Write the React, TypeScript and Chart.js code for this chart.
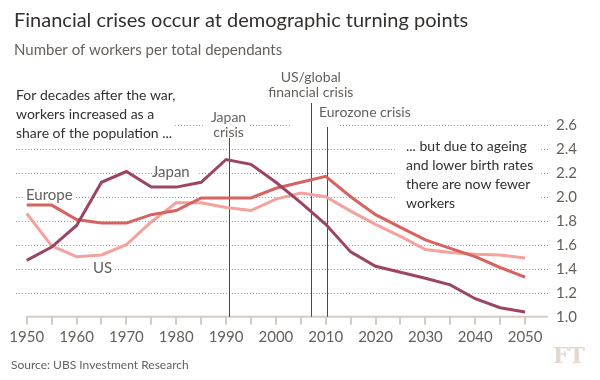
import React, { useEffect, useRef } from "react";
import { Chart, registerables } from "chart.js";
Chart.register(...registerables);

const years = [1950, 1955, 1960, 1965, 1970, 1975, 1980, 1985, 1990, 1995, 2000, 2005, 2010, 2015, 2020, 2025, 2030, 2035, 2040, 2045, 2050];
const japan = [1.47, 1.58, 1.76, 2.12, 2.21, 2.08, 2.08, 2.12, 2.31, 2.27, 2.12, 1.95, 1.77, 1.54, 1.42, 1.37, 1.32, 1.265, 1.15, 1.075, 1.04];
const europe = [1.93, 1.93, 1.81, 1.78, 1.78, 1.85, 1.885, 1.99, 1.99, 1.99, 2.07, 2.12, 2.17, 2.0, 1.85, 1.745, 1.64, 1.57, 1.5, 1.41, 1.33];
const us = [1.86, 1.59, 1.5, 1.515, 1.6, 1.79, 1.95, 1.95, 1.91, 1.885, 1.98, 2.03, 2.0, 1.88, 1.77, 1.67, 1.56, 1.535, 1.52, 1.515, 1.49];
const xTickLabels = ["1950", "1960", "1970", "1980", "1990", "2000", "2010", "2020", "2030", "2040", "2050"];
const yTicks = [1.0, 1.2, 1.4, 1.6, 1.8, 2.0, 2.2, 2.4, 2.6];
const crisisYears = [1990.5, 2007, 2010.3];
const crisisLabels = [["Japan", "crisis"], ["US/global", "financial crisis"], ["Eurozone crisis"]];

const FONT = "Lato, 'Open Sans', sans-serif";

const overlay = {
  id: "overlay",
  beforeDraw(chart: any) {
    const ctx = chart.ctx;
    ctx.save();
    ctx.fillStyle = "#ffffff";
    ctx.fillRect(0, 0, chart.width, chart.height);
    ctx.restore();
  },
  beforeDatasetsDraw(chart: any) {
    const ctx = chart.ctx;
    const { chartArea } = chart;
    const x = chart.scales.x;
    const y = chart.scales.y;
    ctx.save();

    // dotted gridlines from the y scale
    ctx.strokeStyle = "#a8a19b";
    ctx.lineWidth = 1;
    ctx.setLineDash([1, 2]);
    yTicks.forEach((v) => {
      if (v === 1.0) return;
      const py = Math.round(y.getPixelForValue(v)) + 0.5;
      ctx.beginPath();
      ctx.moveTo(chartArea.left, py);
      ctx.lineTo(chartArea.right, py);
      ctx.stroke();
    });
    ctx.setLineDash([]);

    // white boxes hiding gridlines behind labels
    ctx.fillStyle = "#ffffff";
    const boxes = [
      [10, 80, 165, 60],
      [205, 100, 45, 38],
      [290, 118, 50, 14],
      [397, 135, 143, 77],
      [163, 163, 35, 20],
      [23, 186, 53, 19],
      [90, 258, 25, 20],
    ];
    boxes.forEach(([bx, by, bw, bh]) => ctx.fillRect(bx, by, bw, bh));

    // baseline
    ctx.strokeStyle = "#d4ccc3";
    ctx.lineWidth = 2;
    ctx.beginPath();
    ctx.moveTo(x.getPixelForValue(years[0]) - 1, chartArea.bottom);
    ctx.lineTo(chartArea.right, chartArea.bottom);
    ctx.stroke();

    // crisis lines
    const tops = [138, 103, 127];
    ctx.strokeStyle = "#4d4845";
    ctx.lineWidth = 1;
    crisisYears.forEach((yr, i) => {
      const px = Math.round(x.getPixelForValue(yr)) + 0.5;
      ctx.beginPath();
      ctx.moveTo(px, tops[i]);
      ctx.lineTo(px, chartArea.bottom);
      ctx.stroke();
    });

    // crisis labels
    ctx.fillStyle = "#66605c";
    ctx.font = `14px ${FONT}`;
    ctx.textBaseline = "middle";
    ctx.textAlign = "center";
    const jx = x.getPixelForValue(crisisYears[0]);
    ctx.fillText(crisisLabels[0][0], jx, 117);
    ctx.fillText(crisisLabels[0][1], jx, 132);
    const ux = x.getPixelForValue(crisisYears[1]);
    ctx.fillText(crisisLabels[1][0], ux, 77);
    ctx.fillText(crisisLabels[1][1], ux, 92);
    ctx.textAlign = "left";
    ctx.fillText(crisisLabels[2][0], 319, 112);

    // series labels
    ctx.font = `15px ${FONT}`;
    ctx.fillStyle = "#66605c";
    ctx.fillText("Europe", 26, 195);
    ctx.fillText("Japan", 152, 172);
    ctx.fillText("US", 93, 268);

    // annotations
    ctx.fillStyle = "#33302e";
    ctx.font = `14px ${FONT}`;
    ["For decades after the war,", "workers increased as a", "share of the population ..."].forEach((t, i) =>
      ctx.fillText(t, 16, 95 + i * 19)
    );
    ["... but due to ageing", "and lower birth rates", "there are now fewer", "workers"].forEach((t, i) =>
      ctx.fillText(t, 406, 146 + i * 19)
    );
    ctx.restore();
  },
  afterDraw(chart: any) {
    const ctx = chart.ctx;
    ctx.save();
    ctx.textBaseline = "middle";
    ctx.textAlign = "left";
    ctx.fillStyle = "#33302e";
    ctx.font = `20px ${FONT}`;
    ctx.fillText("Financial crises occur at demographic turning points", 14, 21);
    ctx.fillStyle = "#66605c";
    ctx.font = `15px ${FONT}`;
    ctx.fillText("Number of workers per total dependants", 14, 50);
    ctx.font = `12px ${FONT}`;
    ctx.fillText("Source: UBS Investment Research", 11, 365);
    ctx.fillStyle = "#e3d9cf";
    ctx.font = `bold 22px 'DejaVu Serif', 'Liberation Serif', serif`;
    ctx.fillText("FT", 553, 357);
    ctx.restore();
  },
};

export default function App() {
  const ref = useRef<HTMLCanvasElement | null>(null);
  useEffect(() => {
    document.body.style.margin = "0";
    if (!ref.current) return;
    const mk = (vals: number[]) => years.map((yr, i) => ({ x: yr, y: vals[i] }));
    const chart = new Chart(ref.current, {
      type: "line",
      data: {
        datasets: [
          { label: "Japan", data: mk(japan), borderColor: "#9d4465", borderWidth: 3, pointRadius: 0, tension: 0 },
          { label: "Europe", data: mk(europe), borderColor: "#d8625f", borderWidth: 3, pointRadius: 0, tension: 0 },
          { label: "US", data: mk(us), borderColor: "#f4a29c", borderWidth: 3, pointRadius: 0, tension: 0 },
        ],
      },
      options: {
        responsive: false,
        animation: false,
        events: [],
        layout: { padding: { left: 16, top: 124.7, right: 0, bottom: 0 } },
        plugins: { legend: { display: false }, tooltip: { enabled: false }, title: { display: false } },
        scales: {
          x: {
            type: "linear",
            min: 1947.85,
            max: 2054.6,
            afterBuildTicks: (s: any) => {
              s.ticks = years.map((v) => ({ value: v }));
            },
            afterFit: (s: any) => {
              s.height = 380 - 316.7;
            },
            grid: { drawOnChartArea: false, drawTicks: true, tickLength: 8, tickColor: "#d4ccc3", lineWidth: 2 },
            border: { display: false },
            ticks: {
              autoSkip: false,
              maxRotation: 0,
              padding: 3,
              color: "#66605c",
              font: { family: FONT, size: 15 },
              callback: (v: any) => {
                const s = String(v);
                return xTickLabels.includes(s) ? s : "";
              },
            },
          },
          y: {
            position: "right",
            min: 1.0,
            max: 2.6,
            afterBuildTicks: (s: any) => {
              s.ticks = yTicks.map((v) => ({ value: v }));
            },
            afterFit: (s: any) => {
              s.width = 52;
            },
            grid: { display: false, drawTicks: false },
            border: { display: false },
            ticks: {
              padding: 8,
              color: "#66605c",
              font: { family: FONT, size: 15 },
              callback: (v: any) => Number(v).toFixed(1),
            },
          },
        },
      },
      plugins: [overlay],
    } as any);
    return () => chart.destroy();
  }, []);
  return (
    <div style={{ width: 600, height: 380 }}>
      <canvas ref={ref} width={600} height={380} style={{ display: "block" }} />
    </div>
  );
}
